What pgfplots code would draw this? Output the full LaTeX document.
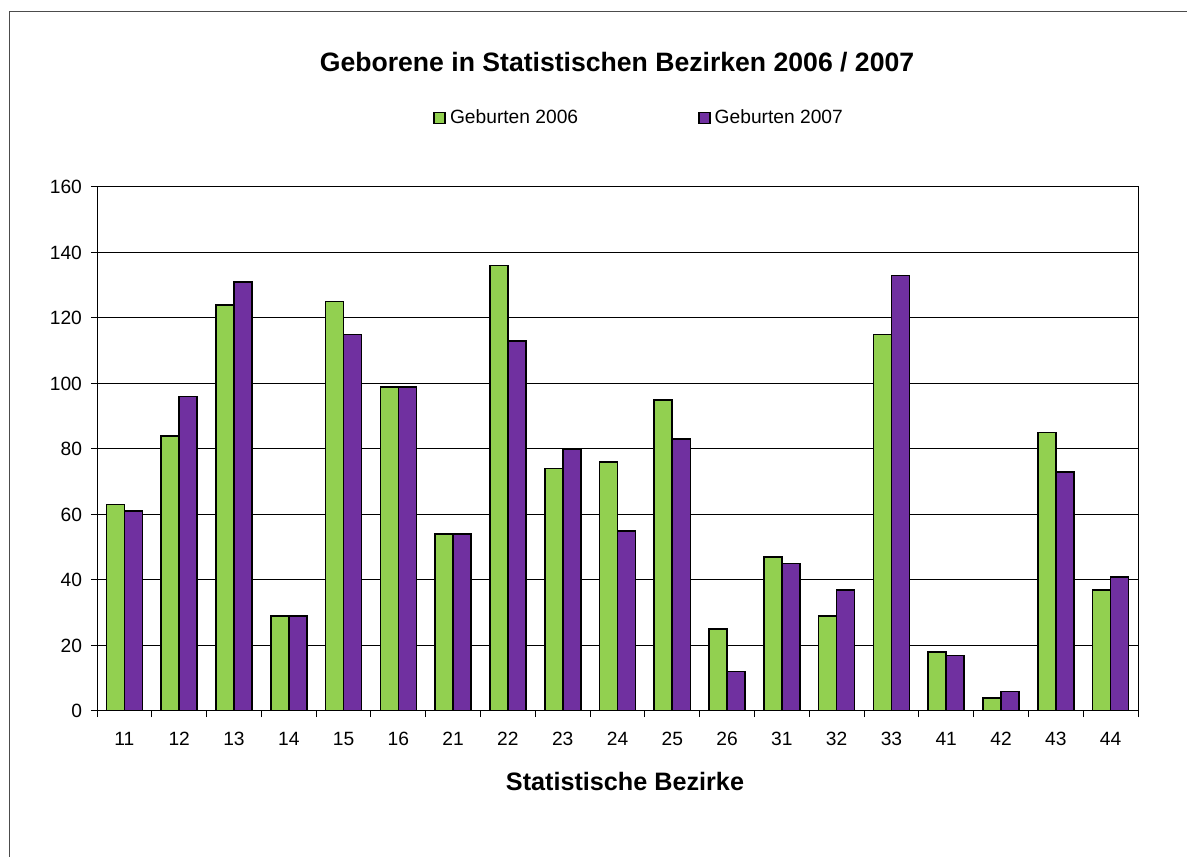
\documentclass[border=0pt]{standalone}
\usepackage{pgfplots}
\pgfplotsset{compat=1.18}
\usepackage{fontspec}
\setmainfont{Liberation Sans}
\definecolor{g06}{RGB}{146,208,80}
\definecolor{p07}{RGB}{112,48,160}

\begin{document}
\begin{tikzpicture}
% canvas 1187x856 px, 1px = 0.5pt
\useasboundingbox (0pt,0pt) rectangle (593.5pt,428pt);
\draw[black!70,line width=0.5pt] (4.5pt,-5pt) -- (4.5pt,422pt) -- (600pt,422pt);

\begin{axis}[
    at={(48.5pt,72.5pt)}, anchor=south west,
    scale only axis,
    width=520.5pt, height=262pt,
    ybar=0pt,
    bar width=9pt,
    ymin=0, ymax=160,
    ytick={0,20,...,160},
    xmin=-0.5, xmax=18.5,
    xtick={-0.5,0.5,...,18.5},
    x tick label as interval,
    xticklabels={11,12,13,14,15,16,21,22,23,24,25,26,31,32,33,41,42,43,44},
    ymajorgrids,
    major grid style={black,line width=0.5pt},
    axis line style={black,line width=0.5pt},
    tick style={black,line width=0.5pt},
    tick align=outside,
    major tick length=3pt,
    xtick pos=bottom, ytick pos=left,
    /pgf/number format/assume math mode=true,
    tick label style={font=\fontsize{9.6}{11}\selectfont},
    xticklabel style={yshift=-4pt},
    yticklabel style={xshift=-1pt},
    legend columns=2,
    legend style={
        at={(0.3228,1.1317)}, anchor=west,
        draw=none, fill=none, inner sep=0pt,
        font=\fontsize{9.6}{11}\selectfont,
        /tikz/column 2/.style={column sep=58pt},
    },
    legend image code/.code={\draw[#1,line width=0.8pt] (0pt,-2.75pt) rectangle (5.5pt,2.75pt);},
]
\addplot[fill=g06,draw=black,line width=0.8pt] coordinates {
    (0,63) (1,84) (2,124) (3,29) (4,125) (5,99) (6,54) (7,136) (8,74) (9,76)
    (10,95) (11,25) (12,47) (13,29) (14,115) (15,18) (16,4) (17,85) (18,37)
};
\addplot[fill=p07,draw=black,line width=0.8pt] coordinates {
    (0,61) (1,96) (2,131) (3,29) (4,115) (5,99) (6,54) (7,113) (8,80) (9,55)
    (10,83) (11,12) (12,45) (13,37) (14,133) (15,17) (16,6) (17,73) (18,41)
};
\legend{Geburten 2006,Geburten 2007}
\end{axis}

\node[font=\fontsize{13.3}{16}\selectfont\bfseries] at (308.5pt,397pt) {Geborene in Statistischen Bezirken 2006 / 2007};
\node[font=\fontsize{12.6}{15}\selectfont\bfseries] at (312.5pt,37.5pt) {Statistische Bezirke};
\end{tikzpicture}
\end{document}
